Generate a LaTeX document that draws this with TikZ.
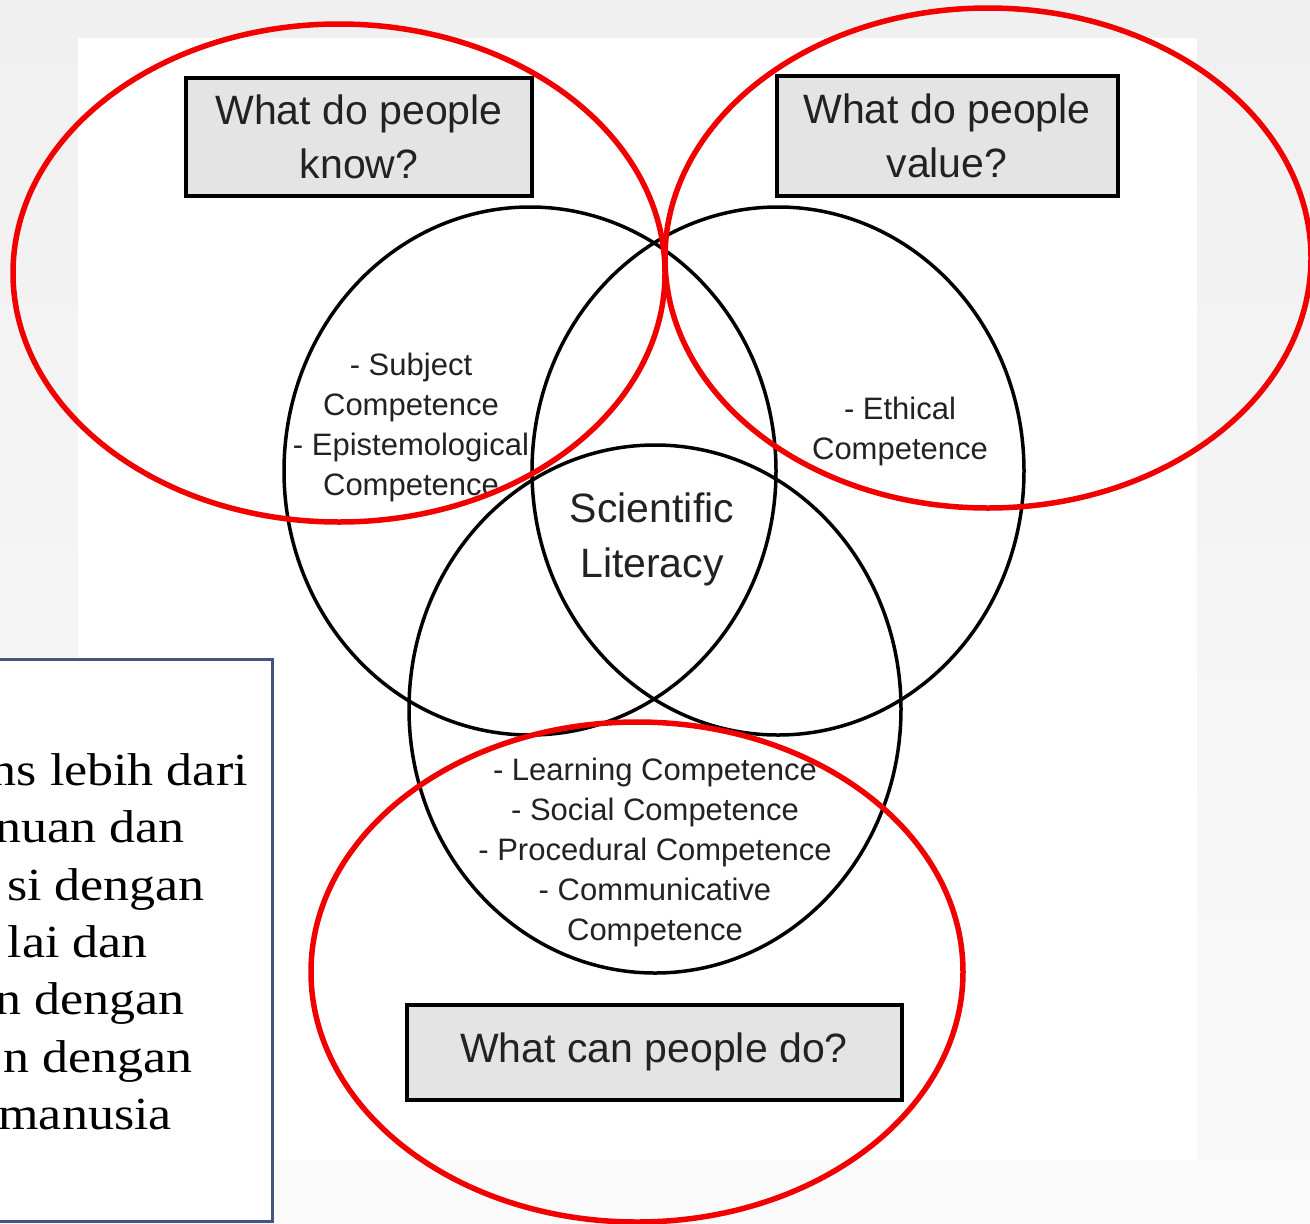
\documentclass[tikz,border=0pt]{standalone}
\usepackage{fontspec}
\setmainfont{Liberation Sans}
\newfontfamily\bodyserif{Liberation Serif}
\usetikzlibrary{shapes.geometric}
\definecolor{bgtop}{HTML}{F0F0F0}
\definecolor{bgbot}{HTML}{FAFAFA}
\definecolor{qfill}{HTML}{E4E4E4}
\definecolor{frameblue}{HTML}{46557D}
\definecolor{ringred}{HTML}{F20000}
\definecolor{inktext}{HTML}{222222}
\tikzset{
  ring/.style={ellipse, draw=black, line width=3.5pt, minimum width=492pt, minimum height=528pt, inner sep=0pt},
  redring/.style={ellipse, draw=ringred, line width=5.5pt, inner sep=0pt},
  qbox/.style={draw=black, fill=qfill, line width=4pt, inner sep=0pt, align=center,
    font=\fontsize{41}{54}\selectfont, text=inktext},
  comp/.style={align=center, font=\fontsize{31}{40}\selectfont, text=inktext},
  core/.style={align=center, font=\fontsize{41}{55}\selectfont, text=inktext},
  bodyline/.style={anchor=base east, inner sep=0pt, xscale=1.13,
    font=\bodyserif\fontsize{46}{57}\selectfont, text=black}
}
\begin{document}
\begin{tikzpicture}[x=1pt,y=-1pt]
\useasboundingbox (0,0) rectangle (1310,1224);
% slide background and the white panel of the figure
\shade[top color=bgtop, bottom color=bgbot] (0,0) rectangle (1310,1224);
\fill[white] (78,38) rectangle (1197,1160);

% three overlapping competence circles
\node[ring] (know) at (530,471) {};
\node[ring] (value) at (778,471) {};
\node[ring] (do) at (655,709) {};

% texts inside the circles
\node[comp] (subj) at (411,427) {- Subject\\Competence\\- Epistemological\\Competence};
\node[comp] (eth) at (900,431) {- Ethical\\Competence};
\node[core] (sl) at (652,539) {Scientific\\Literacy};
\node[comp] (proc) at (655,852) {- Learning Competence\\- Social Competence\\- Procedural Competence\\- Communicative\\Competence};

% question boxes
\node[qbox, minimum width=346pt, minimum height=118pt] (qknow) at (359,137) {What do people\\know?};
\node[qbox, minimum width=341pt, minimum height=120pt] (qvalue) at (947,136) {What do people\\value?};
\node[qbox, minimum width=495pt, minimum height=95pt] (qdo) at (654,1052) {What can people do?};

% text panel on the left
\draw[frameblue, fill=white, line width=3pt] (-6,659) rectangle (272,1221);
\node[bodyline] (l1) at (248,785) {ns lebih dari};
\node[bodyline] (l2) at (185,842) {nuan dan};
\node[bodyline] (l3) at (205,900) {si dengan};
\node[bodyline] (l4) at (148,957) {lai dan};
\node[bodyline] (l5) at (185,1014) {n dengan};
\node[bodyline] (l6) at (193,1072) {n dengan};
\node[bodyline] (l7) at (172,1129) {manusia};

% red highlight ellipses
\node[redring, minimum width=652pt, minimum height=498pt] (hknow) at (339,273) {};
\node[redring, minimum width=646pt, minimum height=500pt] (hvalue) at (988,258) {};
\node[redring, minimum width=652pt, minimum height=500pt] (hdo) at (637,972) {};
\end{tikzpicture}
\end{document}
